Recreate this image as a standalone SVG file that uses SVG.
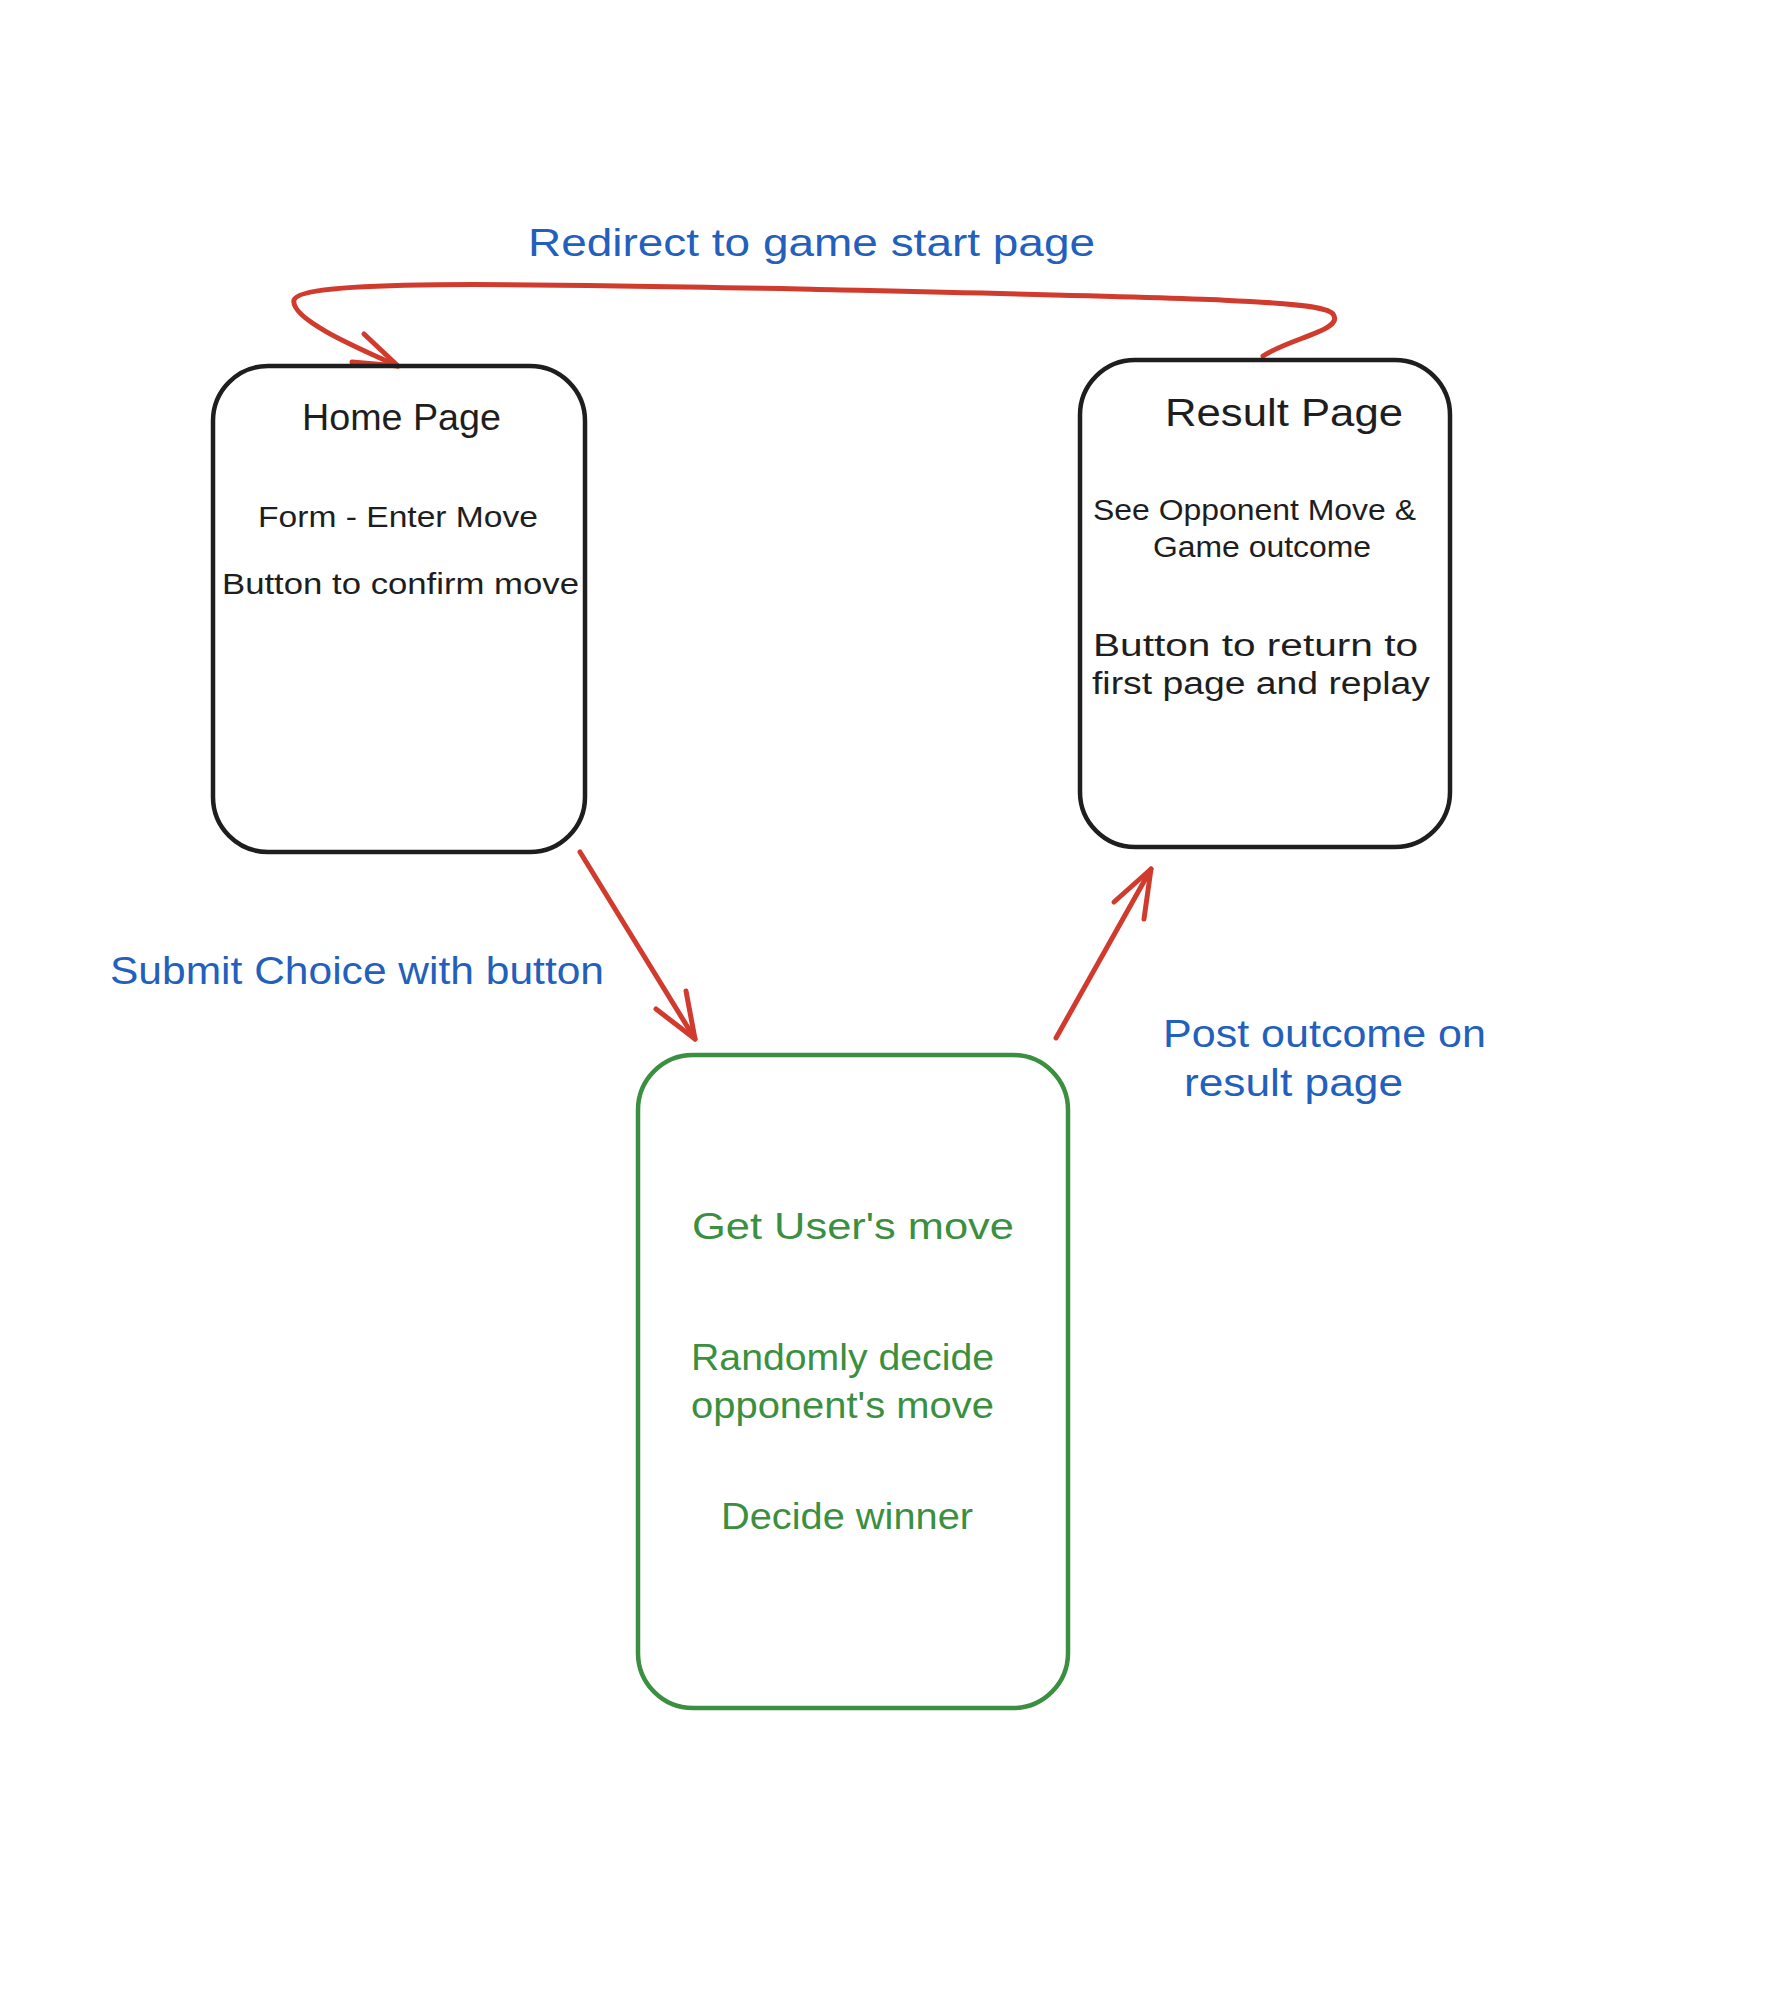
<svg xmlns="http://www.w3.org/2000/svg" width="1768" height="2016" viewBox="0 0 1768 2016">
<style>
.box{fill:none;stroke:#1e1e1e;stroke-width:4.5;stroke-linejoin:round}
.gbox{fill:none;stroke:#3b8f40;stroke-width:4.5}
.conn{fill:none;stroke:#d13b2e;stroke-width:5;stroke-linecap:round;stroke-linejoin:round}
.t{font-family:"Liberation Sans",Arial,sans-serif;fill:#1e1e1e}
.blue{font-family:"Liberation Sans",Arial,sans-serif;fill:#2360bd;font-size:38px}
.green{font-family:"Liberation Sans",Arial,sans-serif;fill:#3b8f40;font-size:36px}
</style>
<rect width="1768" height="2016" fill="#ffffff"/>
<g id="connectors">
  <path class="conn" d="M1263,356 C1290,338 1345,330 1333,314 C1322,300 1200,298 800,289 C500,283 300,280 294,300 C290,318 350,345 398,366"/>
  <path class="conn" d="M364,334 L398,366 L352,362"/>
  <path class="conn" d="M580,852 L695,1039"/>
  <path class="conn" d="M656,1009 L695,1039 L686,991"/>
  <path class="conn" d="M1056,1038 L1151,869"/>
  <path class="conn" d="M1114,902 L1151,869 L1144,919"/>
</g>
<g id="label-redirect">
  <text class="blue" x="528" y="256" textLength="567" lengthAdjust="spacingAndGlyphs">Redirect to game start page</text>
</g>
<g id="label-submit">
  <text class="blue" x="110" y="984" textLength="494" lengthAdjust="spacingAndGlyphs">Submit Choice with button</text>
</g>
<g id="label-post">
  <text class="blue" x="1163" y="1047" textLength="323" lengthAdjust="spacingAndGlyphs">Post outcome on</text>
  <text class="blue" x="1184" y="1096" textLength="219" lengthAdjust="spacingAndGlyphs">result page</text>
</g>
<g id="home-page">
  <rect class="box" x="213" y="366" width="372" height="486" rx="55"/>
  <text class="t" x="302" y="430" font-size="36" textLength="199" lengthAdjust="spacingAndGlyphs">Home Page</text>
  <text class="t" x="258" y="527" font-size="29" textLength="280" lengthAdjust="spacingAndGlyphs">Form - Enter Move</text>
  <text class="t" x="222" y="594" font-size="29" textLength="357" lengthAdjust="spacingAndGlyphs">Button to confirm move</text>
</g>
<g id="result-page">
  <rect class="box" x="1080" y="360" width="370" height="487" rx="55"/>
  <text class="t" x="1165" y="426" font-size="38" textLength="238" lengthAdjust="spacingAndGlyphs">Result Page</text>
  <text class="t" x="1093" y="520" font-size="29" textLength="323" lengthAdjust="spacingAndGlyphs">See Opponent Move &amp;</text>
  <text class="t" x="1153" y="557" font-size="29" textLength="218" lengthAdjust="spacingAndGlyphs">Game outcome</text>
  <text class="t" x="1093" y="656" font-size="31" textLength="325" lengthAdjust="spacingAndGlyphs">Button to return to</text>
  <text class="t" x="1092" y="694" font-size="31" textLength="338" lengthAdjust="spacingAndGlyphs">first page and replay</text>
</g>
<g id="logic">
  <rect class="gbox" x="638" y="1055" width="430" height="653" rx="55"/>
  <text class="green" x="692" y="1239" textLength="322" lengthAdjust="spacingAndGlyphs">Get User's move</text>
  <text class="green" x="691" y="1370" textLength="303" lengthAdjust="spacingAndGlyphs">Randomly decide</text>
  <text class="green" x="691" y="1418" textLength="303" lengthAdjust="spacingAndGlyphs">opponent's move</text>
  <text class="green" x="721" y="1529" textLength="252" lengthAdjust="spacingAndGlyphs">Decide winner</text>
</g>
</svg>
